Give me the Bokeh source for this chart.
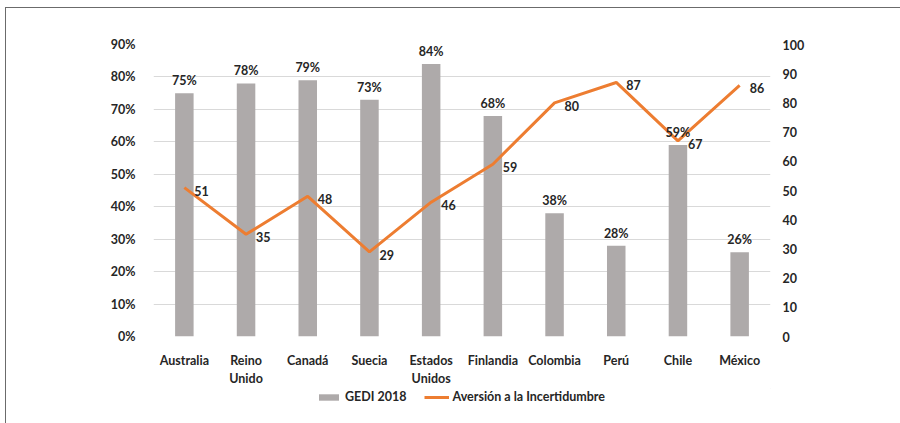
from bokeh.plotting import figure
from bokeh.layouts import column
from bokeh.models import (ColumnDataSource, Range1d, LinearAxis, NumeralTickFormatter,
                          FixedTicker, Legend, LegendItem, LabelSet)
from bokeh.core.properties import value
from bokeh.embed import file_html
from bokeh.resources import INLINE

countries = ["Australia", "Reino\nUnido", "Canadá", "Suecia", "Estados\nUnidos",
             "Finlandia", "Colombia", "Perú", "Chile", "México"]
gedi = [0.75, 0.78, 0.79, 0.73, 0.84, 0.68, 0.38, 0.28, 0.59, 0.26]
aversion = [51, 35, 48, 29, 46, 59, 80, 87, 67, 86]
left_ticks = [0, 0.1, 0.2, 0.3, 0.4, 0.5, 0.6, 0.7, 0.8, 0.9]
right_ticks = [0, 10, 20, 30, 40, 50, 60, 70, 80, 90, 100]
legend_labels = ["GEDI 2018", "Aversión a la Incertidumbre"]

FONT = "Lato"
TXT = "#262626"
BAR = "#AEAAAA"
ORANGE = "#ED7D31"

src = ColumnDataSource(dict(
    x=countries, gedi=gedi, av=aversion,
    gedi_lbl=[f"{round(v*100)}%" for v in gedi],
    av_lbl=[str(v) for v in aversion],
))

p = figure(x_range=countries, y_range=Range1d(0, 0.9), width=895, height=380,
           output_backend="svg", toolbar_location=None,
           min_border_left=147, min_border_right=131, min_border_top=36, min_border_bottom=49)
p.outline_line_color = None
p.extra_y_ranges = {"av": Range1d(0, 100)}

p.vbar(x="x", top="gedi", width=0.3, source=src, fill_color=BAR, line_color=None)
p.line(x="x", y="av", source=src, y_range_name="av", line_color=ORANGE, line_width=3)

p.add_layout(LabelSet(x="x", y="gedi", text="gedi_lbl", source=src, text_align="center",
                      text_baseline="bottom", y_offset=5, text_font=value(FONT),
                      text_font_style="bold", text_font_size="12.5px", text_color=TXT))
p.add_layout(LabelSet(x="x", y="av", text="av_lbl", source=src, y_range_name="av",
                      text_align="left", text_baseline="middle", x_offset=10, y_offset=-3,
                      text_font=value(FONT), text_font_style="bold", text_font_size="12.5px",
                      text_color=TXT))

ax = p.yaxis[0]
ax.ticker = FixedTicker(ticks=left_ticks)
ax.formatter = NumeralTickFormatter(format="0%")
right = LinearAxis(y_range_name="av", ticker=FixedTicker(ticks=right_ticks))
p.add_layout(right, "right")

for a in [ax, right, p.xaxis[0]]:
    a.axis_line_color = None
    a.major_tick_line_color = None
    a.minor_tick_line_color = None
    a.major_label_text_font = FONT
    a.major_label_text_font_style = "bold"
    a.major_label_text_font_size = "12.5px"
    a.major_label_text_color = TXT
ax.major_label_standoff = 12
right.major_label_standoff = 6
p.xaxis[0].major_label_standoff = 10

p.xgrid.grid_line_color = None
p.ygrid.grid_line_color = "#D9D9D9"
p.ygrid.grid_line_width = 1

# legend strip (dummy renderers placed outside the visible range)
lf = figure(width=895, height=35, x_range=Range1d(0, 1), y_range=Range1d(0, 1),
            output_backend="svg", toolbar_location=None,
            min_border_left=0, min_border_right=0, min_border_top=0, min_border_bottom=0)
lf.axis.visible = False
lf.grid.grid_line_color = None
lf.outline_line_color = None
r_bar = lf.vbar(x=[5], top=[5], bottom=[4], width=0.1, fill_color=BAR, line_color=None)
r_line = lf.line(x=[5, 6], y=[5, 5], line_color=ORANGE, line_width=3)
legend = Legend(items=[LegendItem(label=legend_labels[0], renderers=[r_bar]),
                       LegendItem(label=legend_labels[1], renderers=[r_line])],
                orientation="horizontal", location=(163, 19),
                glyph_width=25, glyph_height=8, label_standoff=4, spacing=17,
                label_text_font=FONT, label_text_font_style="bold", label_text_font_size="12.5px",
                label_text_color=TXT, border_line_color=None, background_fill_alpha=0,
                padding=0, margin=0)
lf.add_layout(legend, "center")

layout = column(p, lf, spacing=0,
                styles={"border-left": "1px solid #6b6b6b", "border-top": "1px solid #6b6b6b",
                        "margin-left": "5px", "margin-top": "7px"})

open("out.html", "w").write(file_html(layout, INLINE))
